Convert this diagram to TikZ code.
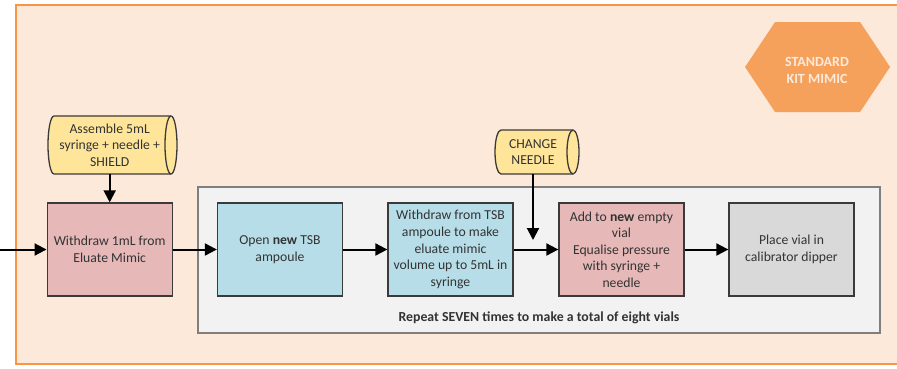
\documentclass[tikz,border=0pt]{standalone}
\usepackage{fontspec}
\setmainfont{Carlito}
\usetikzlibrary{arrows.meta}
\definecolor{peach}{HTML}{FDE9D9}
\definecolor{orangeline}{HTML}{F79646}
\definecolor{hexfill}{HTML}{F5A15C}
\definecolor{hextext}{HTML}{FDEADB}
\definecolor{repeatfill}{HTML}{F2F2F2}
\definecolor{repeatline}{HTML}{7F7F7F}
\definecolor{pinkfill}{HTML}{E6B9B8}
\definecolor{bluefill}{HTML}{B7DEE8}
\definecolor{grayfill}{HTML}{D9D9D9}
\definecolor{drumfill}{HTML}{FFE599}
\definecolor{edge}{HTML}{3A3A3A}
\definecolor{txt}{HTML}{333333}

% horizontal drum: centre x, centre y, half width, half height, cap radius
\newcommand\drumoutline[5]{%
  \filldraw[drumline] (#1-#3+#5,#2+#4) -- (#1+#3-#5,#2+#4)
    arc[start angle=90,end angle=-90,x radius=#5pt,y radius=#4pt]
    -- (#1-#3+#5,#2-#4)
    arc[start angle=270,end angle=90,x radius=#5pt,y radius=#4pt] -- cycle;
  \draw[drumline] (#1+#3-#5,#2+#4)
    arc[start angle=90,end angle=270,x radius=#5pt,y radius=#4pt];}

\begin{document}
\begin{tikzpicture}[x=1pt,y=1pt,
  stepbox/.style={draw=edge, line width=1.3pt, minimum width=125pt,
    minimum height=93pt, inner sep=2pt, align=center, text=txt,
    font=\fontsize{13.7}{16.6}\selectfont},
  drumline/.style={draw=edge, fill=drumfill, line width=1.3pt},
  drumtext/.style={inner sep=0pt, align=center, text=txt,
    font=\fontsize{13.7}{16.3}\selectfont},
  flow/.style={draw=black, line width=2pt, -{Triangle[length=12pt,width=12pt]}},
]
\useasboundingbox (0,0) rectangle (897,-368);
\fill[white] (0,0) rectangle (897,-368);

% outer frame
\draw[draw=orangeline, fill=peach, line width=2.5pt] (16,-5) rectangle (915,-364);

% hexagon tag
\fill[hexfill] (745,-67) -- (775,-22) -- (860,-22) -- (890,-67) -- (860,-112) -- (775,-112) -- cycle;
\node[text=hextext, align=center, font=\bfseries\fontsize{14}{17}\selectfont] (kit) at (817,-70) {STANDARD\\KIT MIMIC};

% repeat loop frame
\draw[draw=repeatline, fill=repeatfill, line width=2.5pt] (198,-187) rectangle (880,-333);
\node[text=txt, font=\bfseries\fontsize{13.8}{16}\selectfont] (rep) at (539,-318)
  {Repeat SEVEN times to make a total of eight vials};

% drums
\drumoutline{112.5}{-145}{64.5}{29}{6}
\node[drumtext, minimum height=58pt] (asm) at (109.7,-145) {Assemble 5mL\\syringe + needle +\\SHIELD};
\drumoutline{537}{-152}{42}{22}{6}
\node[drumtext, minimum height=44pt] (chg) at (533,-152) {CHANGE\\NEEDLE};

% process steps
\node[stepbox, fill=pinkfill] (wd) at (109.7,-249.5) {Withdraw 1mL from\\Eluate Mimic};
\node[stepbox, fill=bluefill] (open) at (280,-249.5) {Open \textbf{new} TSB\\ampoule};
\node[stepbox, fill=bluefill] (tsb) at (450.5,-249.5) {Withdraw from TSB\\ampoule to make\\eluate mimic\\volume up to 5mL in\\syringe};
\node[stepbox, fill=pinkfill] (add) at (621.5,-249.5) {Add to \textbf{new} empty\\vial\\Equalise pressure\\with syringe +\\needle};
\node[stepbox, fill=grayfill] (place) at (791.5,-249.5) {Place vial in\\calibrator dipper};

\coordinate (entry) at (0,-249.5);
\coordinate (drop) at (533,-240);

% connectors
\draw[flow] (entry) -- (wd.west);
\draw[flow] (asm.south) -- (wd.north);
\draw[flow] (wd.east) -- (open.west);
\draw[flow] (open.east) -- (tsb.west);
\draw[flow] (tsb.east) -- (add.west);
\draw[flow] (add.east) -- (place.west);
\draw[flow] (chg.south) -- (drop);
\end{tikzpicture}
\end{document}
